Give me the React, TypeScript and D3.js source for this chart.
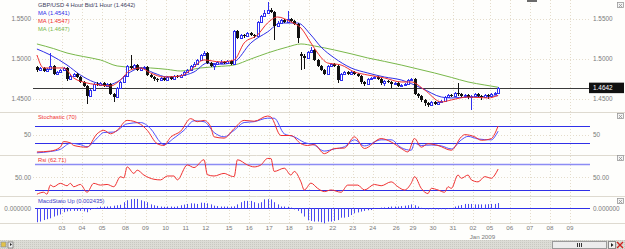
import React from 'react';
import * as d3 from 'd3';

// trading days shown on the date axis and the number of 4h bars in each
const dayLabels = ['', '03', '04', '05', '08', '09', '10', '11', '12', '15', '16', '17', '18', '19', '22', '23', '24', '26', '29', '30', '31', '02', '05', '06', '07', '08', '09'];
const dayBars = [5, 6, 6, 7, 6, 6, 6, 6, 7, 6, 6, 6, 6, 7, 6, 6, 7, 5, 6, 6, 6, 5, 6, 6, 6, 6, 6];
const monthLabels = [{ day: 21, text: 'Jan 2009' }];

// GBP/USD 4 hour candles: open, high, low, close
const candles: [number, number, number, number][] = [
  [1.4900, 1.4910, 1.4838, 1.4863], [1.4863, 1.4900, 1.4850, 1.4888], [1.4888, 1.4895, 1.4838, 1.4850], [1.4850, 1.4885, 1.4840, 1.4875],
  [1.4875, 1.5075, 1.4865, 1.4913], [1.4913, 1.4925, 1.4800, 1.4813], [1.4813, 1.4850, 1.4800, 1.4838], [1.4838, 1.4875, 1.4825, 1.4863],
  [1.4863, 1.4900, 1.4850, 1.4888], [1.4888, 1.4895, 1.4725, 1.4750], [1.4750, 1.4800, 1.4738, 1.4788], [1.4788, 1.4825, 1.4775, 1.4813],
  [1.4813, 1.4825, 1.4763, 1.4775], [1.4775, 1.4788, 1.4700, 1.4713], [1.4713, 1.4725, 1.4650, 1.4663], [1.4663, 1.4675, 1.4438, 1.4538],
  [1.4538, 1.4625, 1.4525, 1.4613], [1.4613, 1.4700, 1.4600, 1.4688], [1.4688, 1.4713, 1.4663, 1.4675], [1.4675, 1.4713, 1.4663, 1.4700],
  [1.4700, 1.4713, 1.4650, 1.4663], [1.4663, 1.4700, 1.4650, 1.4688], [1.4688, 1.4700, 1.4550, 1.4563], [1.4563, 1.4575, 1.4463, 1.4525],
  [1.4525, 1.4650, 1.4513, 1.4638], [1.4638, 1.4725, 1.4625, 1.4713], [1.4713, 1.4800, 1.4700, 1.4788], [1.4788, 1.4925, 1.4775, 1.4913],
  [1.4913, 1.5050, 1.4875, 1.4888], [1.4888, 1.4938, 1.4875, 1.4925], [1.4925, 1.4938, 1.4850, 1.4863], [1.4863, 1.4900, 1.4850, 1.4888],
  [1.4888, 1.4913, 1.4875, 1.4900], [1.4900, 1.4913, 1.4788, 1.4800], [1.4800, 1.4813, 1.4763, 1.4775], [1.4775, 1.4788, 1.4725, 1.4750],
  [1.4750, 1.4763, 1.4713, 1.4738], [1.4738, 1.4775, 1.4725, 1.4763], [1.4763, 1.4775, 1.4725, 1.4738], [1.4738, 1.4788, 1.4725, 1.4775],
  [1.4775, 1.4788, 1.4738, 1.4750], [1.4750, 1.4800, 1.4738, 1.4788], [1.4788, 1.4800, 1.4763, 1.4775], [1.4775, 1.4813, 1.4763, 1.4800],
  [1.4800, 1.4850, 1.4788, 1.4838], [1.4838, 1.4875, 1.4825, 1.4863], [1.4863, 1.4925, 1.4850, 1.4913], [1.4913, 1.4963, 1.4900, 1.4938],
  [1.4938, 1.5000, 1.4925, 1.4988], [1.4988, 1.5063, 1.4975, 1.5050], [1.5050, 1.5100, 1.5038, 1.5075], [1.5075, 1.5088, 1.4938, 1.4950],
  [1.4950, 1.4963, 1.4900, 1.4913], [1.4913, 1.4950, 1.4863, 1.4938], [1.4938, 1.4975, 1.4925, 1.4963], [1.4963, 1.4988, 1.4950, 1.4963],
  [1.4963, 1.4975, 1.4938, 1.4950], [1.4950, 1.4988, 1.4938, 1.4975], [1.4975, 1.4988, 1.4925, 1.4938], [1.4938, 1.5363, 1.4925, 1.5350],
  [1.5350, 1.5363, 1.5250, 1.5263], [1.5263, 1.5313, 1.5250, 1.5300], [1.5300, 1.5313, 1.5263, 1.5288], [1.5288, 1.5338, 1.5275, 1.5325],
  [1.5325, 1.5338, 1.5288, 1.5300], [1.5300, 1.5313, 1.5263, 1.5288], [1.5288, 1.5475, 1.5275, 1.5463], [1.5463, 1.5550, 1.5450, 1.5538],
  [1.5538, 1.5613, 1.5525, 1.5575], [1.5575, 1.5713, 1.5563, 1.5613], [1.5613, 1.5638, 1.5575, 1.5588], [1.5588, 1.5600, 1.5238, 1.5413],
  [1.5413, 1.5475, 1.5400, 1.5450], [1.5450, 1.5500, 1.5438, 1.5488], [1.5488, 1.5500, 1.5450, 1.5463], [1.5463, 1.5600, 1.5450, 1.5500],
  [1.5500, 1.5513, 1.5463, 1.5475], [1.5475, 1.5488, 1.5425, 1.5438], [1.5438, 1.5450, 1.5200, 1.5263], [1.5063, 1.5088, 1.4863, 1.5038],
  [1.5038, 1.5063, 1.4875, 1.5013], [1.5013, 1.5100, 1.5000, 1.5088], [1.5088, 1.5150, 1.5075, 1.5113], [1.5113, 1.5125, 1.4975, 1.4988],
  [1.4988, 1.5000, 1.4900, 1.4913], [1.4913, 1.4925, 1.4850, 1.4863], [1.4863, 1.4875, 1.4800, 1.4813], [1.4813, 1.4925, 1.4800, 1.4913],
  [1.4913, 1.4950, 1.4900, 1.4938], [1.4938, 1.4950, 1.4900, 1.4913], [1.4913, 1.4925, 1.4700, 1.4738], [1.4738, 1.4825, 1.4725, 1.4813],
  [1.4813, 1.4850, 1.4800, 1.4838], [1.4838, 1.4850, 1.4800, 1.4813], [1.4813, 1.4850, 1.4800, 1.4838], [1.4838, 1.4850, 1.4800, 1.4813],
  [1.4813, 1.4825, 1.4775, 1.4788], [1.4788, 1.4800, 1.4688, 1.4713], [1.4713, 1.4725, 1.4663, 1.4688], [1.4688, 1.4763, 1.4675, 1.4750],
  [1.4750, 1.4775, 1.4738, 1.4763], [1.4763, 1.4788, 1.4750, 1.4775], [1.4775, 1.4788, 1.4738, 1.4750], [1.4750, 1.4763, 1.4675, 1.4700],
  [1.4700, 1.4738, 1.4663, 1.4725], [1.4725, 1.4738, 1.4700, 1.4713], [1.4713, 1.4725, 1.4638, 1.4688], [1.4688, 1.4713, 1.4675, 1.4700],
  [1.4700, 1.4713, 1.4650, 1.4663], [1.4663, 1.4688, 1.4650, 1.4675], [1.4675, 1.4700, 1.4663, 1.4688], [1.4688, 1.4750, 1.4675, 1.4738],
  [1.4738, 1.4763, 1.4725, 1.4750], [1.4750, 1.4763, 1.4550, 1.4563], [1.4563, 1.4575, 1.4513, 1.4538], [1.4538, 1.4550, 1.4463, 1.4488],
  [1.4488, 1.4500, 1.4413, 1.4450], [1.4450, 1.4463, 1.4400, 1.4425], [1.4425, 1.4475, 1.4413, 1.4463], [1.4463, 1.4475, 1.4425, 1.4438],
  [1.4438, 1.4475, 1.4425, 1.4463], [1.4463, 1.4488, 1.4450, 1.4475], [1.4475, 1.4538, 1.4463, 1.4525], [1.4525, 1.4563, 1.4513, 1.4550],
  [1.4550, 1.4563, 1.4525, 1.4538], [1.4538, 1.4588, 1.4525, 1.4575], [1.4575, 1.4700, 1.4538, 1.4563], [1.4563, 1.4575, 1.4525, 1.4538],
  [1.4538, 1.4563, 1.4513, 1.4550], [1.4550, 1.4563, 1.4500, 1.4525], [1.4525, 1.4550, 1.4363, 1.4538], [1.4538, 1.4575, 1.4525, 1.4563],
  [1.4563, 1.4575, 1.4525, 1.4538], [1.4538, 1.4550, 1.4488, 1.4525], [1.4525, 1.4563, 1.4513, 1.4550], [1.4550, 1.4563, 1.4500, 1.4538],
  [1.4538, 1.4575, 1.4525, 1.4563], [1.4563, 1.4588, 1.4550, 1.4575], [1.4575, 1.4650, 1.4563, 1.4642],
];

// moving averages: [bar, value]
const maBlue: [number, number][] = [
  [0, 1.5125], [4, 1.5050], [9, 1.4925], [13, 1.4800], [17, 1.4713], [21, 1.4675], [24, 1.4713], [28, 1.4838], [31, 1.4888],
  [35, 1.4825], [39, 1.4775], [43, 1.4788], [47, 1.4838], [51, 1.4950], [55, 1.4935], [59, 1.4963], [64, 1.5200], [69, 1.5338],
  [73, 1.5450], [78, 1.5450], [82, 1.5300], [85, 1.5150], [89, 1.5013], [94, 1.4888], [99, 1.4825], [104, 1.4775], [109, 1.4738],
  [115, 1.4638], [121, 1.4525], [124, 1.4513], [129, 1.4525], [134, 1.4530], [138, 1.4541],
];
const maRed: [number, number][] = [
  [0, 1.5050], [2, 1.4888], [4, 1.4888], [8, 1.4888], [11, 1.4763], [15, 1.4700], [19, 1.4675], [22, 1.4663], [25, 1.4738],
  [28, 1.4863], [31, 1.4888], [34, 1.4825], [38, 1.4775], [43, 1.4788], [46, 1.4863], [50, 1.4988], [55, 1.4963], [59, 1.4988],
  [62, 1.5200], [66, 1.5300], [69, 1.5450], [72, 1.5525], [76, 1.5463], [79, 1.5388], [82, 1.5200], [84, 1.5075], [87, 1.4950],
  [91, 1.4925], [95, 1.4838], [99, 1.4800], [104, 1.4763], [109, 1.4713], [112, 1.4713], [116, 1.4613], [121, 1.4463],
  [124, 1.4488], [129, 1.4525], [135, 1.4513], [138, 1.4547],
];
const maGreen: [number, number][] = [
  [0, 1.5188], [5, 1.5130], [9, 1.5075], [14, 1.5030], [19, 1.4988], [24, 1.4913], [29, 1.4895], [34, 1.4888], [39, 1.4870],
  [43, 1.4850], [49, 1.4888], [54, 1.4905], [59, 1.4925], [64, 1.5000], [69, 1.5075], [75, 1.5150], [79, 1.5188], [83, 1.5163],
  [89, 1.5113], [94, 1.5065], [99, 1.5013], [104, 1.4970], [109, 1.4925], [114, 1.4875], [119, 1.4825], [124, 1.4770],
  [129, 1.4713], [134, 1.4675], [138, 1.4647],
];

// stochastic %K (red) and %D (blue)
const stochK: [number, number][] = [
  [0, 10], [4, 12], [7, 21], [8, 34], [10, 31], [11, 25], [15, 21], [18, 52], [20, 60], [22, 52], [24, 60], [27, 83], [31, 74],
  [33, 60], [36, 29], [38, 25], [40, 44], [43, 58], [46, 87], [48, 80], [50, 83], [52, 68], [53, 45], [56, 42], [59, 64], [62, 83],
  [65, 81], [69, 93], [70, 91], [73, 48], [76, 48], [79, 29], [81, 25], [83, 27], [86, 6], [89, 18], [92, 19], [95, 45], [98, 18],
  [103, 41], [106, 33], [109, 18], [111, 10], [113, 41], [115, 21], [117, 29], [120, 25], [124, 14], [127, 45], [128, 50],
  [131, 45], [133, 37], [136, 41], [137, 52], [138, 70],
];
const stochD: [number, number][] = [
  [0, 8], [4, 11], [7, 16], [10, 30], [13, 27], [15, 22], [18, 42], [20, 55], [23, 56], [27, 75], [31, 78], [34, 64], [37, 32],
  [38, 27], [41, 42], [44, 60], [47, 82], [50, 80], [53, 55], [56, 45], [59, 60], [62, 78], [65, 80], [69, 88], [71, 88], [74, 52],
  [77, 45], [80, 32], [83, 26], [86, 12], [89, 17], [92, 22], [95, 38], [98, 24], [103, 38], [106, 38], [109, 20], [112, 14],
  [113, 30], [115, 25], [118, 26], [121, 24], [124, 17], [127, 38], [129, 46], [132, 40], [136, 38], [137, 45], [138, 58],
];

// RSI
const rsi: [number, number][] = [
  [0, 24], [2, 27], [3, 24], [4, 38], [5, 35.5], [7, 40.7], [9, 37], [10, 40.7], [11, 35.5], [13, 39], [15, 27], [17, 40.7],
  [19, 38], [21, 39], [23, 35.5], [25, 51], [26, 49], [27, 66], [29, 56], [30, 61], [32, 53.5], [35, 47], [37, 46], [39, 52],
  [41, 52], [42, 46], [45, 69], [47, 65], [50, 77], [51, 54], [53, 52], [56, 56], [58, 52], [59, 51], [60, 77], [63, 69],
  [65, 66], [67, 69], [69, 79], [70, 79], [71, 59], [74, 64], [76, 53.5], [77, 59], [79, 43], [80, 30.5], [82, 41], [84, 33],
  [86, 28], [88, 30.5], [91, 27], [93, 38], [96, 38], [98, 30.5], [101, 39], [103, 37], [106, 43], [108, 35.5], [110, 30.5],
  [112, 41], [113, 51], [115, 33], [117, 25], [118, 33], [120, 30.5], [122, 27], [123, 35.5], [124, 33], [126, 53.5],
  [127, 48.5], [129, 53.5], [130, 46], [132, 43], [134, 51], [136, 48.5], [137, 53.5], [138, 62.71],
];

// MACD histogram, one value per bar
const macd = [
  -0.0064, -0.0061, -0.0054, -0.0050, -0.0046, -0.0038, -0.0033, -0.0028, -0.0018, -0.0014, -0.0012, -0.0012, -0.0012, -0.0012,
  -0.0014, -0.0018, -0.0008, -0.0003, 0.0003, 0.0008, 0.0008, 0.0008, 0.0009, 0.0012, 0.0014, 0.0016, 0.0028, 0.0037, 0.0042,
  0.0043, 0.0043, 0.0037, 0.0032, 0.0028, 0.0018, 0.0014, 0.0011, 0.0008, 0.0007, 0.0008, 0.0008, 0.0007, 0.0009, 0.0014,
  0.0017, 0.0020, 0.0023, 0.0022, 0.0020, 0.0026, 0.0025, 0.0023, 0.0018, 0.0012, 0.0010, 0.0008, 0.0008, 0.0008, 0.0008,
  0.0009, 0.0018, 0.0028, 0.0034, 0.0034, 0.0034, 0.0028, 0.0023, 0.0028, 0.0041, 0.0042, 0.0041, 0.0028, 0.0018, 0.0008,
  0.0008, 0.0007, 0.0003, -0.0005, -0.0012, -0.0023, -0.0038, -0.0055, -0.0058, -0.0061, -0.0061, -0.0064, -0.0069, -0.0061,
  -0.0061, -0.0058, -0.0054, -0.0043, -0.0043, -0.0040, -0.0031, -0.0023, -0.0019, -0.0015, -0.0012, -0.0009, -0.0008,
  -0.0002, -0.0001, 0.0003, 0.0004, 0.0006, 0.0008, 0.0008, 0.0008, 0.0010, 0.0012, 0.0014, 0.0018, 0.0014, 0.0008, 0.0002,
  -0.0005, -0.0005, -0.0004, -0.0005, -0.0005, -0.0004, -0.0005, -0.0003, 0.0001, 0.0008, 0.0012, 0.0015, 0.0020, 0.0020,
  0.0020, 0.0018, 0.0018, 0.0018, 0.0018, 0.0019, 0.0020, 0.0020, 0.0024,
];

const priceTicks = [1.45, 1.5, 1.55];
const lastPrice = 1.4642;

const font = '"Liberation Sans", Arial, sans-serif';
const BLUE = '#2f2fe8';
const RED = '#f03030';
const GREEN = '#79b84a';
const GRID = '#e4dccb';
const AXIS_TXT = '#7a7a7a';

const App: React.FC = () => {
  const totalSlots = d3.sum(dayBars);
  const x = d3.scaleLinear().domain([0, totalSlots]).range([35.26, 580]);
  const cx = (i: number) => x(i + 0.5);
  const starts = dayBars.map((_, k) => d3.sum(dayBars.slice(0, k)));

  const yP = d3.scaleLinear().domain([1.45, 1.55]).range([99, 19]);
  const yS = d3.scaleLinear().domain([30, 70]).range([143.3, 126]);
  const yR = d3.scaleLinear().domain([30, 70]).range([190.3, 164.3]);
  const yM = d3.scaleLinear().domain([0, 0.002435]).range([208.3, 203]);

  const mk = (y: d3.ScaleLinear<number, number>) =>
    d3.line<[number, number]>().x(d => cx(d[0])).y(d => y(d[1])).curve(d3.curveMonotoneX);

  const plotL = 33, plotR = 590;
  const crisp = (v: number) => Math.round(v) + 0.5;

  const hLine = (y: number, color: string, w = 1, key?: string) => (
    <line key={key} x1={plotL + 2} x2={plotR} y1={crisp(y)} y2={crisp(y)} stroke={color} strokeWidth={w} />
  );

  const closeBox = (top: number) => (
    <g transform={`translate(617,${top})`}>
      <rect x={0.5} y={0.5} width={6} height={5} fill="#f4f4f4" stroke="#9a9a9a" strokeWidth={0.8} />
      <path d="M2,2 L5,5 M5,2 L2,5" stroke="#8a8a8a" strokeWidth={0.7} />
    </g>
  );

  return (
    <svg width={625} height={249} style={{ position: 'absolute', left: 0, top: 0, background: '#fefefc' }} fontFamily={font}>
      {/* vertical dotted grid */}
      {starts.slice(1).map((s, k) => (
        <line key={'vg' + k} x1={crisp(x(s + 3))} x2={crisp(x(s + 3))} y1={0} y2={223} stroke={GRID} strokeDasharray="1,2" />
      ))}
      {/* horizontal dotted grid */}
      {priceTicks.map(t => (
        <line key={'hg' + t} x1={plotL} x2={plotR} y1={crisp(yP(t))} y2={crisp(yP(t))} stroke={GRID} strokeDasharray="1,2" />
      ))}
      <line x1={plotL} x2={plotR} y1={crisp(yS(50))} y2={crisp(yS(50))} stroke={GRID} strokeDasharray="1,2" />
      <line x1={plotL} x2={plotR} y1={crisp(yR(50))} y2={crisp(yR(50))} stroke={GRID} strokeDasharray="1,2" />

      {/* panel separators */}
      {[112, 155, 196, 223].map(y => (
        <line key={'sep' + y} x1={0} x2={625} y1={y + 0.5} y2={y + 0.5} stroke="#dedad0" />
      ))}

      {/* last price line */}
      <line x1={plotL} x2={plotR} y1={crisp(yP(lastPrice))} y2={crisp(yP(lastPrice))} stroke="#3a3a3a" />

      {/* moving averages */}
      <path d={mk(yP)(maGreen) || ''} fill="none" stroke={GREEN} strokeWidth={1} />
      <path d={mk(yP)(maBlue) || ''} fill="none" stroke={BLUE} strokeWidth={1} />

      {/* candles */}
      {candles.map(([o, h, l, c], i) => {
        const px = Math.round(cx(i));
        const up = c >= o;
        const col = up ? '#3030f0' : '#111';
        const top = yP(Math.max(o, c));
        const bot = yP(Math.min(o, c));
        return (
          <g key={'c' + i} shapeRendering="crispEdges">
            <line x1={px + 0.5} x2={px + 0.5} y1={yP(h)} y2={yP(l)} stroke={col} />
            {up ? (
              <rect x={px - 0.5} y={Math.round(top) + 0.5} width={2} height={Math.max(1, Math.round(bot - top))} fill="#fff" stroke={col} />
            ) : (
              <rect x={px - 1} y={Math.round(top)} width={3} height={Math.max(1, Math.round(bot - top))} fill={col} />
            )}
          </g>
        );
      })}
      <path d={mk(yP)(maRed) || ''} fill="none" stroke={RED} strokeWidth={1} />

      {/* main panel texts */}
      <text x={38} y={7} fontSize={5.8} fill="#404060">GBP/USD 4 Hour Bid/1 Hour (1.4642)</text>
      <text x={38} y={15} fontSize={5.8} fill={BLUE}>MA (1.4541)</text>
      <text x={38} y={23} fontSize={5.8} fill={RED}>MA (1.4547)</text>
      <text x={38} y={31} fontSize={5.8} fill={GREEN}>MA (1.4647)</text>
      {priceTicks.map(t => (
        <g key={'pt' + t} fontSize={6.4} fill={AXIS_TXT}>
          <text x={31} y={yP(t) + 2.2} textAnchor="end">{d3.format('.4f')(t)}</text>
          <text x={593} y={yP(t) + 2.2}>{d3.format('.4f')(t)}</text>
        </g>
      ))}
      <rect x={589} y={yP(lastPrice) - 5} width={35} height={10.5} fill="#111" />
      <text x={593} y={yP(lastPrice) + 2.2} fontSize={6.4} fill="#fff">{d3.format('.4f')(lastPrice)}</text>
      {closeBox(2)}
      <rect x={527} y={0} width={10} height={2} fill="#6b6b6b" />

      {/* stochastic */}
      {hLine(yS(70), BLUE)}
      {hLine(yS(30), BLUE)}
      <path d={mk(yS)(stochD) || ''} fill="none" stroke="#5050ff" strokeWidth={1} />
      <path d={mk(yS)(stochK) || ''} fill="none" stroke={RED} strokeWidth={1} />
      <text x={38} y={119} fontSize={5.8} fill={RED}>Stochastic (70)</text>
      <text x={31} y={yS(50) + 2.2} fontSize={6.4} fill={AXIS_TXT} textAnchor="end">50</text>
      <text x={593} y={yS(50) + 2.2} fontSize={6.4} fill={AXIS_TXT}>50</text>
      {closeBox(113)}

      {/* RSI */}
      {hLine(yR(70), '#8c8cf4', 1.6)}
      {hLine(yR(30), BLUE)}
      <path d={mk(yR)(rsi) || ''} fill="none" stroke={RED} strokeWidth={1} />
      <text x={38} y={162} fontSize={5.8} fill={RED}>Rsi (62.71)</text>
      <text x={31} y={yR(50) + 2.2} fontSize={6.4} fill={AXIS_TXT} textAnchor="end">{d3.format('.2f')(50)}</text>
      <text x={593} y={yR(50) + 2.2} fontSize={6.4} fill={AXIS_TXT}>{d3.format('.2f')(50)}</text>
      {closeBox(155)}

      {/* MACD histogram */}
      {hLine(yM(0), BLUE)}
      {macd.map((v, i) => (
        <line key={'m' + i} x1={Math.round(cx(i)) + 0.5} x2={Math.round(cx(i)) + 0.5} y1={yM(0)} y2={yM(v)} stroke="#4a4af0" />
      ))}
      <text x={38} y={203} fontSize={5.8} fill="#3c3cc8">MacdStato Up (0.002435)</text>
      <text x={31} y={yM(0) + 2.2} fontSize={6.4} fill={AXIS_TXT} textAnchor="end">{d3.format('.6f')(0)}</text>
      <text x={593} y={yM(0) + 2.2} fontSize={6.4} fill={AXIS_TXT}>{d3.format('.6f')(0)}</text>
      {closeBox(198)}

      {/* date axis */}
      {dayLabels.map((lab, k) =>
        lab ? (
          <text key={'d' + k} x={x(starts[k] + 3)} y={229.5} fontSize={6.2} fill={AXIS_TXT} textAnchor="middle">{lab}</text>
        ) : null
      )}
      {monthLabels.map(m => (
        <text key={m.text} x={x(starts[m.day] + 2)} y={238.5} fontSize={6.2} fill={AXIS_TXT}>{m.text}</text>
      ))}

      {/* bottom status strip */}
      <rect x={0} y={240} width={625} height={9} fill="#dcdcd6" />
      <rect x={0} y={240} width={625} height={9} fill="url(#dots)" />
      <defs>
        <pattern id="dots" width={2} height={2} patternUnits="userSpaceOnUse">
          <rect x={0} y={0} width={1} height={1} fill="#c9c9c2" />
        </pattern>
      </defs>
      <rect x={1} y={242} width={5} height={5} fill="#e2c24a" stroke="#7a8aa8" strokeWidth={0.6} />
      <rect x={8} y={242} width={5} height={6} fill="#eee" stroke="#555" strokeWidth={0.6} />
      <path d="M10,243 L12,244.5 L10,246 Z" fill="#222" />
      <rect x={552.5} y={241.5} width={54} height={7} fill="#ececec" stroke="#9a9a9a" />
      <path d="M577.5,243 V247 M579.5,243 V247 M581.5,243 V247" stroke="#333" />
      <rect x={608.5} y={241.5} width={7} height={7} fill="#f2f2f2" stroke="#8a8a8a" />
      <path d="M611,243 L613.5,245 L611,247 Z" fill="#222" />
      <path d="M617,242 L623,248 M623,242 L617,248" stroke="#d02020" strokeWidth={1.4} />
    </svg>
  );
};

export default App;
